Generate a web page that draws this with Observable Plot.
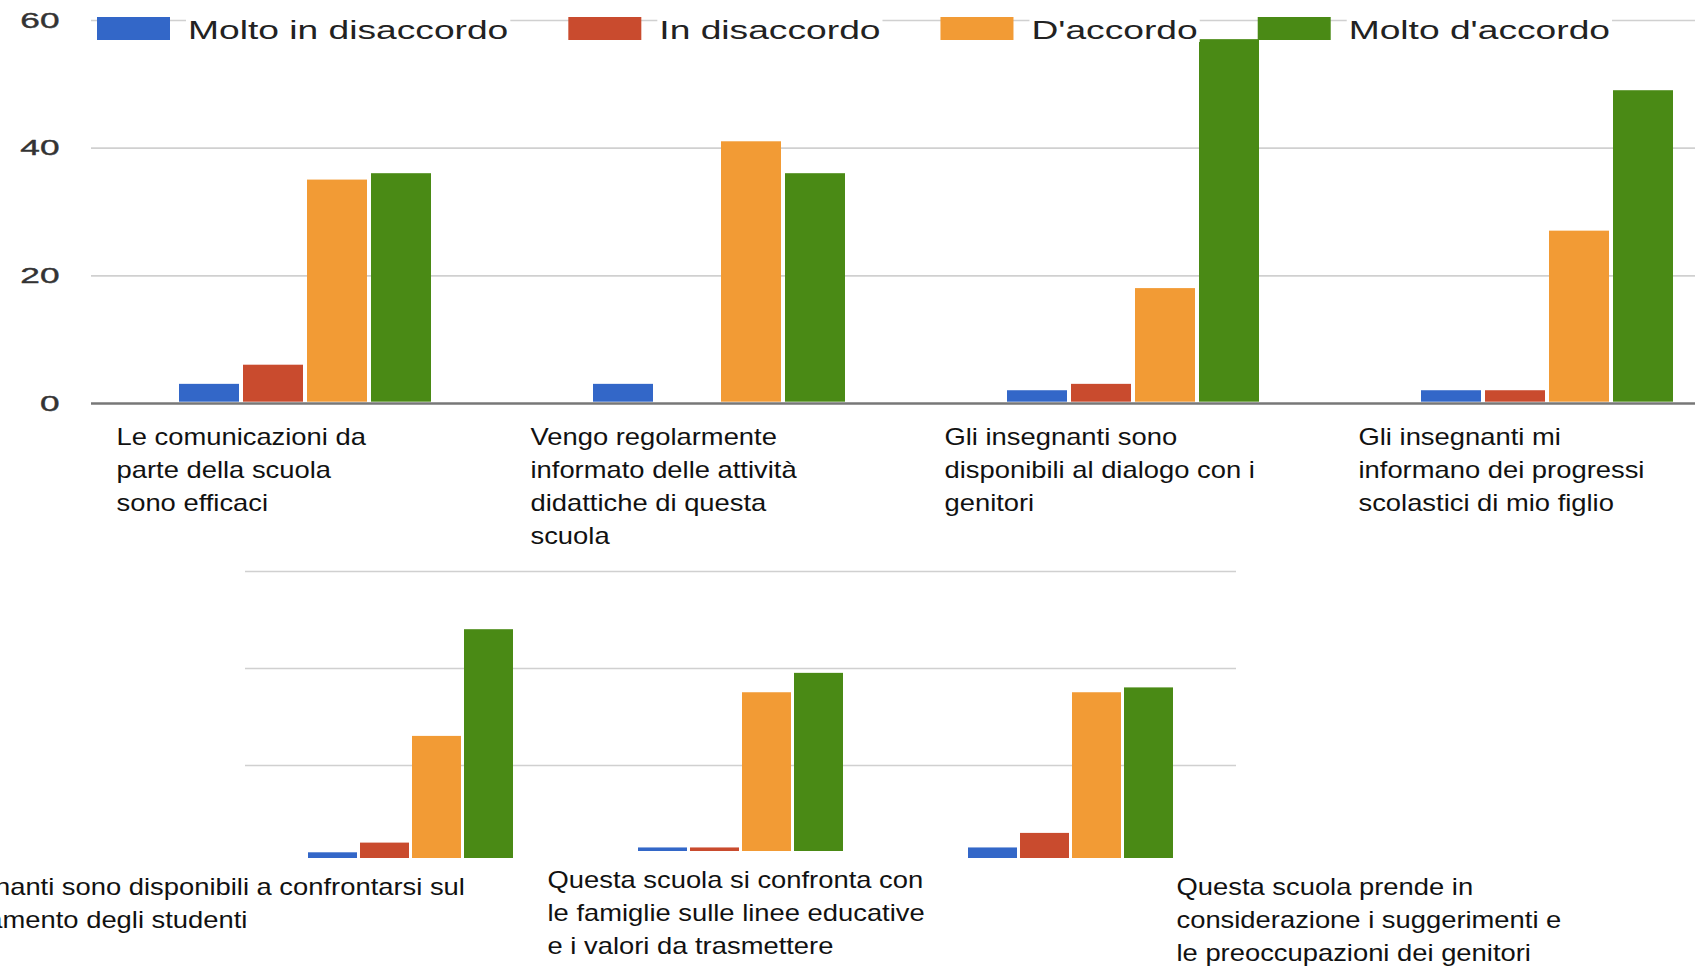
<!DOCTYPE html>
<html>
<head>
<meta charset="utf-8">
<script src="https://cdn.jsdelivr.net/npm/d3@7"></script>
<script src="https://cdn.jsdelivr.net/npm/@observablehq/plot@0.6"></script>
<style>
  html, body { margin: 0; padding: 0; background: #fff; width: 1695px; height: 966px; overflow: hidden; }
  #page { position: relative; width: 1695px; height: 966px; font-family: "Liberation Sans", Arial, sans-serif; }
  .layer { position: absolute; left: 0; }
  .top { top: 0; }
  .bottom { top: 548px; }
  #legend { position: absolute; left: 0; top: 0; }
</style>
</head>
<body>
<div id="page">
  <div id="topGrid" class="layer top"></div>
  <div id="topBars" class="layer top"></div>
  <div id="bottomGrid" class="layer bottom"></div>
  <div id="bottomBars" class="layer bottom"></div>
  <svg id="legend" width="1695" height="50"></svg>
</div>
<script>
// ---------------- DATA ----------------
const series = ["Molto in disaccordo", "In disaccordo", "D'accordo", "Molto d'accordo"];
const colors = ["#3367c8", "#c94b2e", "#f29b35", "#4a8a15"];
const yTicks = [0, 20, 40, 60];

const topQuestions = [
  "Le comunicazioni da parte della scuola sono efficaci",
  "Vengo regolarmente informato delle attività didattiche di questa scuola",
  "Gli insegnanti sono disponibili al dialogo con i genitori",
  "Gli insegnanti mi informano dei progressi scolastici di mio figlio"
];
const topTickLabels = [
  "Le comunicazioni da\nparte della scuola\nsono efficaci",
  "Vengo regolarmente\ninformato delle attività\ndidattiche di questa\nscuola",
  "Gli insegnanti sono\ndisponibili al dialogo con i\ngenitori",
  "Gli insegnanti mi\ninformano dei progressi\nscolastici di mio figlio"
];
const topMoltoDisaccordo = [3, 3, 2, 2];
const topDisaccordo      = [6, 0, 3, 2];
const topAccordo         = [35, 41, 18, 27];
const topMoltoAccordo    = [36, 36, 57, 49];

const bottomQuestions = [
  "Gli insegnanti sono disponibili a confrontarsi sul comportamento degli studenti",
  "Questa scuola si confronta con le famiglie sulle linee educative e i valori da trasmettere",
  "Questa scuola prende in considerazione i suggerimenti e le preoccupazioni dei genitori"
];
const bottomTickLabels = [
  "Gli insegnanti sono disponibili a confrontarsi sul\ncomportamento degli studenti",
  "Questa scuola si confronta con\nle famiglie sulle linee educative\ne i valori da trasmettere",
  "Questa scuola prende in\nconsiderazione i suggerimenti e\nle preoccupazioni dei genitori"
];
const bottomMoltoDisaccordo = [2, 3, 3];
const bottomDisaccordo      = [4, 3, 6];
const bottomAccordo         = [26, 35, 35];
const bottomMoltoAccordo    = [48, 39, 36];

// ---------------- LAYOUT (styling only) ----------------
const bottomLabelDx = [-420, -91, 208];
const bottomLabelDy = [9.5, 2.5, 9.5];
const bottomInset = [4, 11, 4];

function tidy(questions, cols) {
  const rows = [];
  questions.forEach((q, i) => {
    series.forEach((s, j) => rows.push({q, s, v: cols[j][i]}));
  });
  return rows;
}
const topRows = tidy(topQuestions, [topMoltoDisaccordo, topDisaccordo, topAccordo, topMoltoAccordo]);
const bottomRows = tidy(bottomQuestions, [bottomMoltoDisaccordo, bottomDisaccordo, bottomAccordo, bottomMoltoAccordo]);

const font = "'Liberation Sans', Arial, sans-serif";

// ---------------- TOP CHART ----------------
const topDims = {width: 1695, height: 548, marginTop: 20, marginBottom: 145, marginLeft: 91, marginRight: 0};

const topGrid = Plot.plot({
  ...topDims,
  style: {background: "transparent", fontFamily: font, overflow: "visible"},
  y: {domain: [0, 60], axis: null},
  marks: [
    Plot.ruleY(yTicks.filter(d => d > 0), {stroke: "#d0d0d0", strokeWidth: 1.6}),
    Plot.text(yTicks, {y: d => d, text: d => String(d), frameAnchor: "left",
      textAnchor: "end", dx: -32, fontSize: 22, fill: "#333", stroke: "#333", strokeWidth: 0.4}),
    Plot.ruleY([0], {stroke: "#777", strokeWidth: 2.5})
  ]
});
document.getElementById("topGrid").appendChild(topGrid);

const topBars = Plot.plot({
  ...topDims,
  style: {background: "transparent", fontFamily: font, overflow: "visible"},
  fx: {domain: topQuestions, paddingInner: 0.384, paddingOuter: 0.129, align: 0.812, axis: null},
  x: {domain: series, paddingInner: 0.06, paddingOuter: 0, axis: null},
  y: {domain: [0, 60], axis: null},
  color: {domain: series, range: colors},
  marks: [
    Plot.barY(topRows, {fx: "q", x: "s", y: "v", fill: "s", insetBottom: 1.3}),
    Plot.text(topQuestions, {fx: d => d, text: (d, i) => topTickLabels[i], frameAnchor: "bottom-left",
      textAnchor: "start", lineAnchor: "top", dx: -62, dy: 18.5, fontSize: 24, lineHeight: 1.375, fill: "#111"})
  ]
});
document.getElementById("topBars").appendChild(topBars);

// ---------------- BOTTOM CHART ----------------
const bottomDims = {width: 1695, height: 418, marginTop: 23, marginBottom: 104, marginLeft: 245, marginRight: 459};

const bottomGrid = Plot.plot({
  ...bottomDims,
  style: {background: "transparent", fontFamily: font},
  y: {domain: [0, 60], axis: null},
  marks: [
    Plot.ruleY([20, 40, 60], {stroke: "#d0d0d0", strokeWidth: 1.6})
  ]
});
document.getElementById("bottomGrid").appendChild(bottomGrid);

const bottomMarks = [];
bottomQuestions.forEach((q, i) => {
  bottomMarks.push(Plot.barY(bottomRows.filter(r => r.q === q),
    {fx: "q", x: "s", y: "v", fill: "s", insetBottom: bottomInset[i]}));
  bottomMarks.push(Plot.text([q], {fx: d => d, text: () => bottomTickLabels[i], frameAnchor: "bottom-left",
    textAnchor: "start", lineAnchor: "top", dx: bottomLabelDx[i], dy: bottomLabelDy[i],
    fontSize: 24, lineHeight: 1.375, fill: "#111"}));
});
const bottomBars = Plot.plot({
  ...bottomDims,
  style: {background: "transparent", fontFamily: font},
  fx: {domain: bottomQuestions, paddingInner: 0.379, paddingOuter: 0.19, axis: null},
  x: {domain: series, paddingInner: 0.06, paddingOuter: 0, axis: null},
  y: {domain: [0, 60], axis: null},
  color: {domain: series, range: colors},
  marks: bottomMarks
});
document.getElementById("bottomBars").appendChild(bottomBars);

// ---------------- horizontal text stretch (the source screenshots are stretched) ----------------
function stretchEl(el, k) {
  const w = el.getComputedTextLength();
  if (w > 0) {
    el.setAttribute("textLength", (w * k).toFixed(1));
    el.setAttribute("lengthAdjust", "spacingAndGlyphs");
  }
}
function stretchTexts(svg) {
  svg.querySelectorAll("text").forEach(t => {
    const isTick = /^\d+$/.test(t.textContent.trim());
    const k = isTick ? 1.6 : 1.14;
    const tspans = t.querySelectorAll("tspan");
    if (tspans.length) tspans.forEach(ts => stretchEl(ts, k));
    else stretchEl(t, k);
  });
}
[topGrid, topBars, bottomBars].forEach(stretchTexts);

// ---------------- LEGEND ----------------
const leg = d3.select("#legend");
let lx = 97;
series.forEach((s, i) => {
  leg.append("rect").attr("x", lx).attr("y", 17).attr("width", 73).attr("height", 23).attr("fill", colors[i]);
  lx += 73 + 18;
  const bg = leg.append("rect").attr("y", 19).attr("height", 23).attr("fill", "#fff");
  const t = leg.append("text").attr("x", lx).attr("y", 39)
    .attr("font-family", font).attr("font-size", 26).attr("fill", "#222").text(s);
  const w = t.node().getComputedTextLength() * 1.43;
  t.attr("textLength", w.toFixed(1)).attr("lengthAdjust", "spacingAndGlyphs");
  bg.attr("x", lx - 2).attr("width", w + 4);
  lx += w + 60;
});
</script>
</body>
</html>
